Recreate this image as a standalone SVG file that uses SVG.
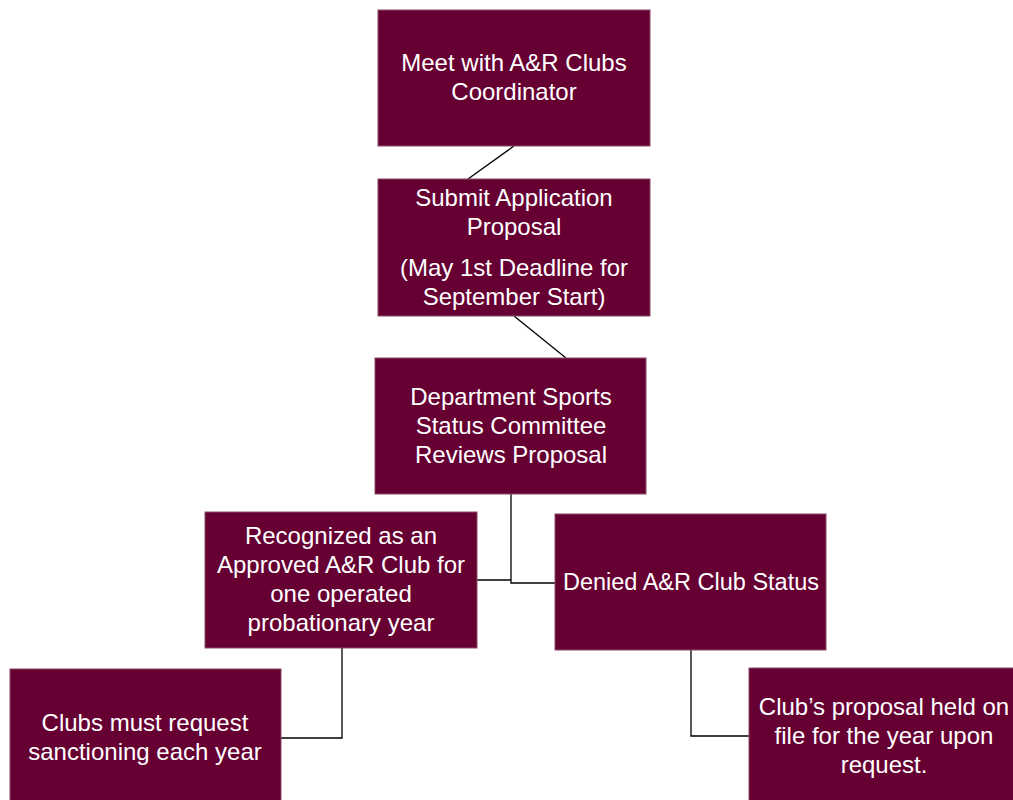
<svg xmlns="http://www.w3.org/2000/svg" width="1013" height="800" viewBox="0 0 1013 800">
<style>
.box{fill:#660033;stroke:#8a4a66;stroke-width:1}
.t{font-family:"Liberation Sans",Arial,sans-serif;font-size:24px;fill:#ffffff;text-anchor:middle}
.c{fill:none;stroke:#000000;stroke-width:1.3}
</style>
<rect width="1013" height="800" fill="#ffffff"/>
<g id="connectors">
<line class="c" x1="514" y1="146" x2="468" y2="179"/>
<line class="c" x1="514" y1="316" x2="566" y2="358"/>
<polyline class="c" points="477,580 511,580 511,494 511,583 555,583"/>
<polyline class="c" points="342,648 342,738 281,738"/>
<polyline class="c" points="691,650 691,736 749,736"/>
</g>
<g id="n1"><rect class="box" x="378" y="10" width="272" height="136"/>
<text class="t" x="514" y="71">Meet with A&amp;R Clubs</text>
<text class="t" x="514" y="100">Coordinator</text></g>
<g id="n2"><rect class="box" x="378" y="179" width="272" height="137"/>
<text class="t" x="514" y="206">Submit Application</text>
<text class="t" x="514" y="235">Proposal</text>
<text class="t" x="514" y="276">(May 1st Deadline for</text>
<text class="t" x="514" y="305">September Start)</text></g>
<g id="n3"><rect class="box" x="375" y="358" width="271" height="136"/>
<text class="t" x="511" y="405">Department Sports</text>
<text class="t" x="511" y="434">Status Committee</text>
<text class="t" x="511" y="463">Reviews Proposal</text></g>
<g id="n4"><rect class="box" x="205" y="512" width="272" height="136"/>
<text class="t" x="341" y="544">Recognized as an</text>
<text class="t" x="341" y="573">Approved A&amp;R Club for</text>
<text class="t" x="341" y="602">one operated</text>
<text class="t" x="341" y="631">probationary year</text></g>
<g id="n5"><rect class="box" x="555" y="514" width="271" height="136"/>
<text class="t" x="691" y="590" style="font-size:23.5px">Denied A&amp;R Club Status</text></g>
<g id="n6"><rect class="box" x="10" y="669" width="271" height="136"/>
<text class="t" x="145" y="731">Clubs must request</text>
<text class="t" x="145" y="760">sanctioning each year</text></g>
<g id="n7"><rect class="box" x="749" y="668" width="272" height="136"/>
<text class="t" x="884" y="715">Club’s proposal held on</text>
<text class="t" x="884" y="744">file for the year upon</text>
<text class="t" x="884" y="773">request.</text></g>
</svg>
